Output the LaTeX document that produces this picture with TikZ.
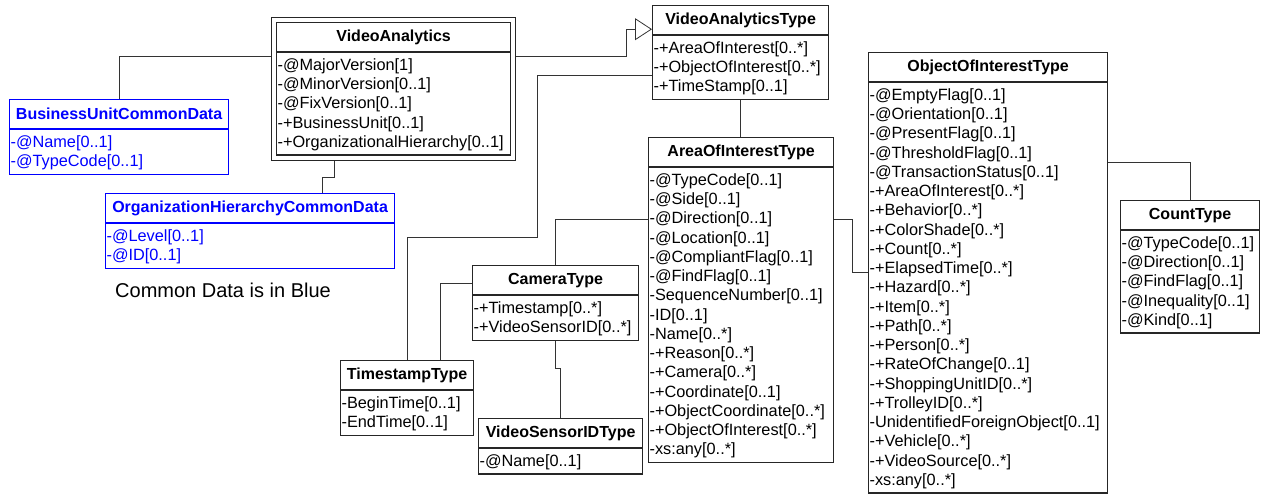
\documentclass[tikz,border=0pt]{standalone}
\usepackage{fontspec}
\setmainfont{Liberation Sans}
\usetikzlibrary{arrows.meta,fit}
\newcommand{\attrfont}{\fontsize{16.3}{19.25}\selectfont\hyphenpenalty=10000\exhyphenpenalty=10000}
\newcommand{\rs}{\rule[-4.75pt]{0pt}{19.25pt}}

\begin{document}
\begin{tikzpicture}[x=1pt, y=1pt,
  box/.style={draw=black!85, line width=1.2pt},
  hdr/.style={box, anchor=north west, minimum height=29pt, inner sep=0pt, font=\fontsize{16}{19}\selectfont\bfseries},
  attrs/.style={box, anchor=north west, align=left, inner xsep=1pt, inner ysep=3pt, font=\attrfont},
  common/.style={draw=blue, text=blue},
  conn/.style={draw=black!80, line width=0.8pt}]

  \useasboundingbox (0,0) rectangle (1265,-493);

  % -- VideoAnalytics (root, double frame) --
  \node[hdr, minimum width=234pt] (va) at (276,-22) {VideoAnalytics};
  \node[attrs, text width=232pt] (vabody) at (va.south west) {\rs-@MajorVersion[1]\\\rs-@MinorVersion[0..1]\\\rs-@FixVersion[0..1]\\\rs-+BusinessUnit[0..1]\\\rs-+OrganizationalHierarchy[0..1]};
  \node[box, inner sep=4.5pt, fit=(va)(vabody)] (vaframe) {};

  % -- Common data (blue) --
  \node[hdr, common, minimum width=219pt] (bucd) at (9,-99) {BusinessUnitCommonData};
  \node[attrs, common, text width=217pt] (bucdbody) at (bucd.south west) {\rs-@Name[0..1]\\\rs-@TypeCode[0..1]};
  \node[hdr, common, minimum width=289pt] (ohcd) at (105,-193) {OrganizationHierarchyCommonData};
  \node[attrs, common, text width=287pt] (ohcdbody) at (ohcd.south west) {\rs-@Level[0..1]\\\rs-@ID[0..1]};
  \node[anchor=west, inner sep=0pt, font=\fontsize{20}{24}\selectfont] (note) at (115,-290) {Common Data is in Blue};

  % -- VideoAnalyticsType --
  \node[hdr, minimum width=176pt] (vat) at (652,-5) {VideoAnalyticsType};
  \node[attrs, text width=174pt] (vatbody) at (vat.south west) {\rs-+AreaOfInterest[0..*]\\\rs-+ObjectOfInterest[0..*]\\\rs-+TimeStamp[0..1]};

  % -- AreaOfInterestType --
  \node[hdr, minimum width=185pt] (aoi) at (648,-137) {AreaOfInterestType};
  \node[attrs, text width=183pt] (aoibody) at (aoi.south west) {\rs-@TypeCode[0..1]\\\rs-@Side[0..1]\\\rs-@Direction[0..1]\\\rs-@Location[0..1]\\\rs-@CompliantFlag[0..1]\\\rs-@FindFlag[0..1]\\\rs-SequenceNumber[0..1]\\\rs-ID[0..1]\\\rs-Name[0..*]\\\rs-+Reason[0..*]\\\rs-+Camera[0..*]\\\rs-+Coordinate[0..1]\\\rs-+ObjectCoordinate[0..*]\\\rs-+ObjectOfInterest[0..*]\\\rs-xs:any[0..*]};

  % -- CameraType, TimestampType, VideoSensorIDType --
  \node[hdr, minimum width=166pt] (cam) at (472,-265) {CameraType};
  \node[attrs, text width=164pt] (cambody) at (cam.south west) {\rs-+Timestamp[0..*]\\\rs-+VideoSensorID[0..*]};
  \node[hdr, minimum width=133pt] (ts) at (340,-360) {TimestampType};
  \node[attrs, text width=131pt] (tsbody) at (ts.south west) {\rs-BeginTime[0..1]\\\rs-EndTime[0..1]};
  \node[hdr, minimum width=164pt] (vsi) at (478,-418) {VideoSensorIDType};
  \node[attrs, text width=162pt] (vsibody) at (vsi.south west) {\rs-@Name[0..1]};

  % -- ObjectOfInterestType --
  \node[hdr, minimum width=239pt] (ooi) at (868,-52) {ObjectOfInterestType};
  \node[attrs, text width=237pt] (ooibody) at (ooi.south west) {\rs-@EmptyFlag[0..1]\\\rs-@Orientation[0..1]\\\rs-@PresentFlag[0..1]\\\rs-@ThresholdFlag[0..1]\\\rs-@TransactionStatus[0..1]\\\rs-+AreaOfInterest[0..*]\\\rs-+Behavior[0..*]\\\rs-+ColorShade[0..*]\\\rs-+Count[0..*]\\\rs-+ElapsedTime[0..*]\\\rs-+Hazard[0..*]\\\rs-+Item[0..*]\\\rs-+Path[0..*]\\\rs-+Person[0..*]\\\rs-+RateOfChange[0..1]\\\rs-+ShoppingUnitID[0..*]\\\rs-+TrolleyID[0..*]\\\rs-UnidentifiedForeignObject[0..1]\\\rs-+Vehicle[0..*]\\\rs-+VideoSource[0..*]\\\rs-xs:any[0..*]};

  % -- CountType --
  \node[hdr, minimum width=139pt] (cnt) at (1120,-200) {CountType};
  \node[attrs, text width=137pt] (cntbody) at (cnt.south west) {\rs-@TypeCode[0..1]\\\rs-@Direction[0..1]\\\rs-@FindFlag[0..1]\\\rs-@Inequality[0..1]\\\rs-@Kind[0..1]};

  % -- Connectors --
  \draw[conn] (bucd.north) |- ([yshift=-4pt]vabody.north -| vaframe.west);
  \draw[conn] ([xshift=-59pt]vaframe.south) -- ++(0,-16.5) -| ([xshift=72.5pt]ohcd.north);
  \draw[conn, -{Triangle[open, length=17pt, width=22pt]}] ([yshift=-4pt]vabody.north -| vaframe.east) -- ++(110,0) |- ([yshift=6pt]vat.south west);
  \draw[conn] ([yshift=-40pt]vat.south west) -- ++(-115,0) -- ++(0,-162) -| (ts.north);
  \draw[conn] (vatbody.south) -- (vatbody.south |- aoi.north);
  \draw[conn] ([yshift=-52pt]aoi.south west) -| (cam.north);
  \draw[conn] ([yshift=-3.5pt]cam.west) -| ([xshift=33.5pt]ts.north);
  \draw[conn] (cambody.south) -- ++(0,-27) -| (vsi.north);
  \draw[conn] ([yshift=-52pt]aoi.south east) -- ++(18,0) |- ([yshift=-190pt]ooi.south west);
  \draw[conn] ([yshift=-80pt]ooi.south east) -| (cnt.north);

\end{tikzpicture}
\end{document}
